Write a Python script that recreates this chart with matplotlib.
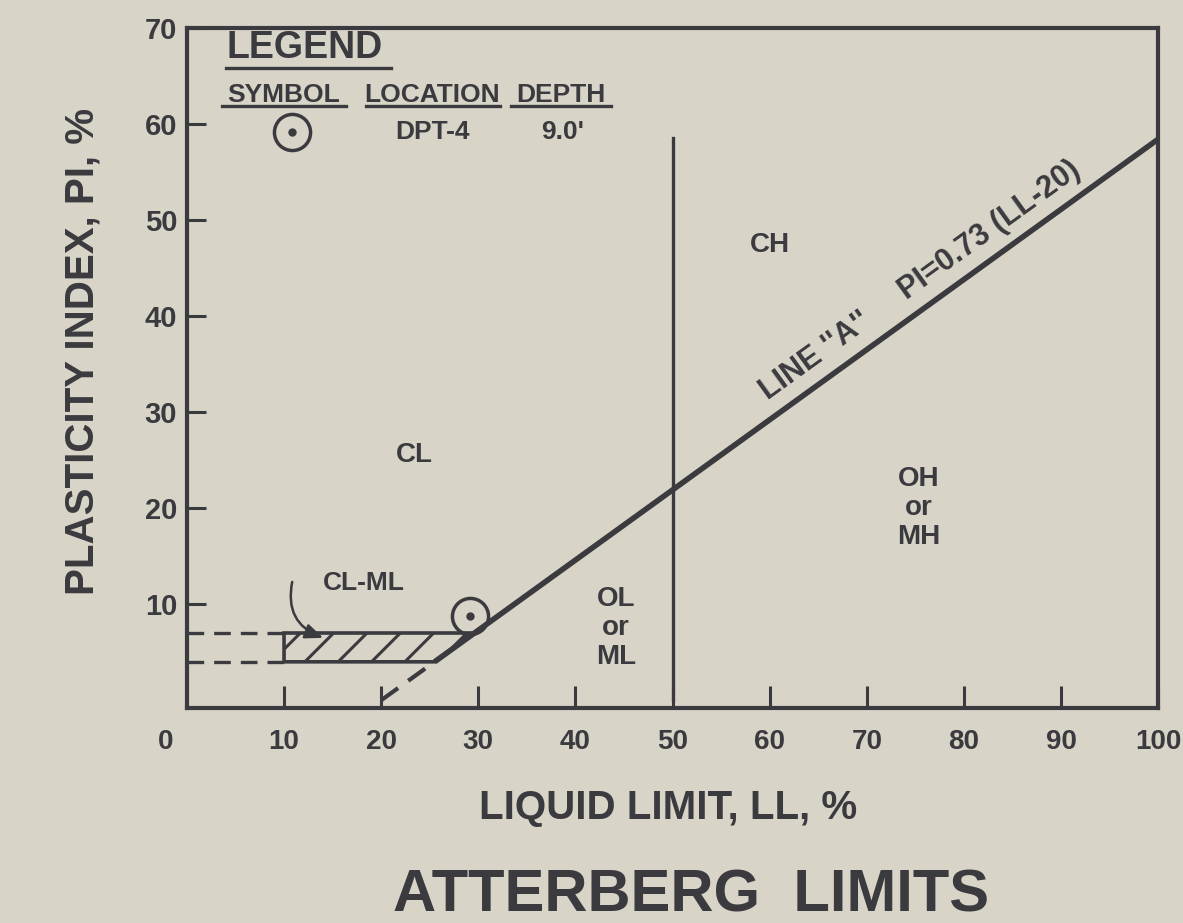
import math
import matplotlib
matplotlib.use("Agg")
from matplotlib import pyplot as plt
from matplotlib.patches import Polygon

# Plasticity chart (Atterberg limits)
paper = '#d8d4c8'
ink = '#3b3a3e'

xticks = [10, 20, 30, 40, 50, 60, 70, 80, 90, 100]
yticks = [10, 20, 30, 40, 50, 60, 70]

# A-line PI = 0.73 (LL-20)
aline_ll = [25.5, 100]
aline_pi = [4.0, 58.4]
aline_ext_ll = [20, 25.5]
aline_ext_pi = [0, 4.0]

# LL = 50 divider
ll50_x = [50, 50]
ll50_y = [0, 58.5]

# CL-ML hatched zone
clml_ll = [10, 10, 29.6, 25.5]
clml_pi = [4, 7, 7, 4]
clml_dash_pi = [7, 4]

# sample DPT-4 @ 9.0'
sample_ll = [29.1]
sample_pi = [8.8]

zone_names = ['CL', 'CH', 'OL\nor\nML', 'OH\nor\nMH']
zone_ll = [23.4, 60.0, 44.2, 75.3]
zone_pi = [25.5, 47.4, 7.5, 20.0]

plt.rcParams['font.family'] = ['Liberation Sans', 'DejaVu Sans']
plt.rcParams['font.weight'] = 'bold'
plt.rcParams['axes.labelweight'] = 'bold'
plt.rcParams['axes.labelcolor'] = ink
plt.rcParams['text.color'] = ink
plt.rcParams['hatch.linewidth'] = 2.2

fig = plt.figure(figsize=(11.83, 9.23), dpi=100, facecolor=paper)
ax = fig.add_axes([0.158, 0.233, 0.821, 0.737], facecolor=paper)
ax.set_xlim(0, 100)
ax.set_ylim(-0.8, 70)

for s in ax.spines.values():
    s.set_linewidth(3)
    s.set_color(ink)

ax.set_xticks(xticks)
ax.set_xticklabels([str(t) for t in xticks])
ax.set_yticks(yticks)
ax.set_yticklabels([str(t) for t in yticks])
ax.tick_params(axis='x', direction='in', length=16, width=2.2, color=ink,
               pad=15, labelsize=20, labelcolor=ink)
ax.tick_params(axis='y', direction='in', length=14, width=2.2, color=ink,
               pad=7, labelsize=21, labelcolor=ink)
ax.text(-2.2, -0.05, '0', transform=ax.get_xaxis_transform(), ha='center',
        va='center', fontsize=20)

ax.set_xlabel('LIQUID LIMIT, LL, %', fontsize=29, va='center')
ax.xaxis.set_label_coords(0.495, -0.147)
ax.set_ylabel('PLASTICITY INDEX, PI, %', fontsize=29, va='center')
ax.yaxis.set_label_coords(-0.108, 0.5235)

# lines
ax.plot(aline_ll, aline_pi, color=ink, lw=4, solid_capstyle='butt')
ax.plot(aline_ext_ll, aline_ext_pi, color=ink, lw=3, ls=(0, (5, 3)))
ax.plot(ll50_x, ll50_y, color=ink, lw=2.4)

# CL-ML zone
zone = Polygon(list(zip(clml_ll, clml_pi)), closed=True, facecolor='none',
               edgecolor=ink, lw=2.6, hatch='/')
ax.add_patch(zone)
for p in clml_dash_pi:
    ax.plot([0, 10], [p, p], color=ink, lw=2.4, ls=(0, (5, 3)))

ax.text(18.2, 12.2, 'CL-ML', ha='center', va='center', fontsize=19)
ax.annotate('', xy=(14.3, 6.4), xytext=(10.9, 12.6),
            arrowprops=dict(arrowstyle='-|>,head_length=0.6,head_width=0.25',
                            connectionstyle='arc3,rad=0.45', color=ink, lw=1.8,
                            mutation_scale=18))

# sample point
ax.plot(sample_ll, sample_pi, 'o', ms=26, mfc='none', mec=ink, mew=2.5)
ax.plot(sample_ll, sample_pi, 'o', ms=5, color=ink)

for name, x, y in zip(zone_names, zone_ll, zone_pi):
    ax.text(x, y, name, ha='center', va='center', fontsize=20, linespacing=1.15)

# label along A-line
fig.canvas.draw()
p1 = ax.transData.transform((aline_ll[0], aline_pi[0]))
p2 = ax.transData.transform((aline_ll[1], aline_pi[1]))
ang = math.degrees(math.atan2(p2[1] - p1[1], p2[0] - p1[0]))
ax.text(76, 43.0, "LINE ''A''     PI=0.73 (LL-20)", rotation=ang,
        rotation_mode='anchor', ha='center', va='baseline', fontsize=22)

# legend block
ax.text(4.1, 67.9, 'LEGEND', ha='left', va='center', fontsize=27)
ax.plot([4.0, 21.0], [65.8, 65.8], color=ink, lw=2.4)
heads = ['SYMBOL', 'LOCATION', 'DEPTH']
head_x = [10.0, 25.2, 38.5]
under = [(3.6, 16.4), (18.4, 32.2), (33.4, 43.7)]
for h, x, (a, b) in zip(heads, head_x, under):
    ax.text(x, 63.0, h, ha='center', va='center', fontsize=19)
    ax.plot([a, b], [61.8, 61.8], color=ink, lw=2.4)
ax.plot([10.8], [59.1], 'o', ms=26, mfc='none', mec=ink, mew=2.5)
ax.plot([10.8], [59.1], 'o', ms=5, color=ink)
ax.text(25.3, 59.1, 'DPT-4', ha='center', va='center', fontsize=19)
ax.text(38.7, 59.1, "9.0'", ha='center', va='center', fontsize=19)

fig.text(0.584, 0.012, 'ATTERBERG  LIMITS', ha='center', va='baseline',
         fontsize=43)

fig.savefig('out.png', dpi=100, facecolor=paper)
